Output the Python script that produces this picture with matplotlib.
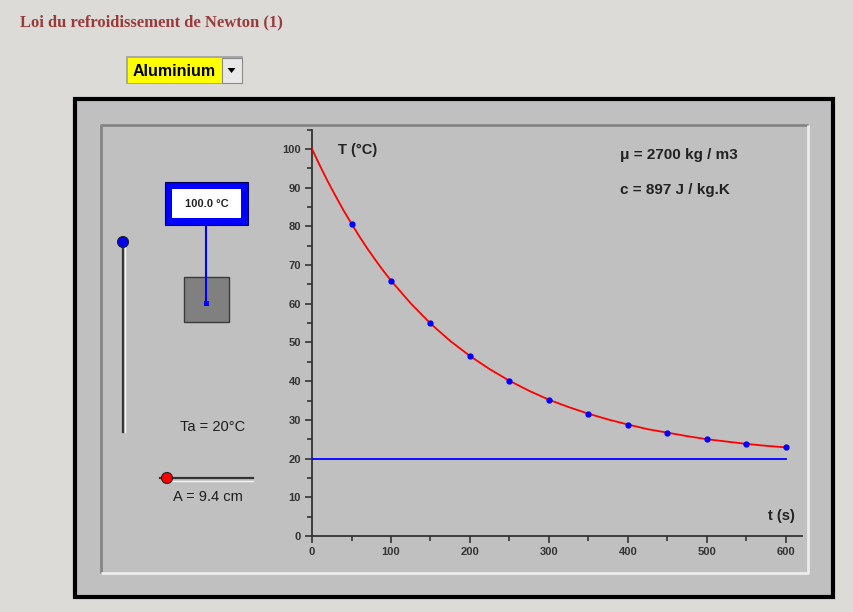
import matplotlib
matplotlib.use("Agg")
import matplotlib.pyplot as plt
from matplotlib.patches import Rectangle, Circle, Polygon
from matplotlib.ticker import MultipleLocator

# ---- data ----
point_t = [50, 100, 150, 200, 250, 300, 350, 400, 450, 500, 550, 600]
point_T = [80.7, 66.0, 55.0, 46.5, 40.1, 35.2, 31.6, 28.8, 26.7, 25.0, 23.8, 22.9]
curve_t = [0, 10, 20, 30, 40, 50, 60, 70, 80, 90, 100, 125, 150, 175, 200,
           225, 250, 275, 300, 325, 350, 375, 400, 425, 450, 475, 500,
           525, 550, 575, 600]
curve_T = [100, 95.7, 91.6, 87.8, 84.1, 80.7, 77.4, 74.3, 71.4, 68.6, 66.0,
           60.1, 54.9, 50.4, 46.5, 43.1, 40.1, 37.5, 35.2, 33.3, 31.6, 30.1,
           28.8, 27.6, 26.7, 25.8, 25.0, 24.4, 23.8, 23.3, 22.9]
ambient_t = [0, 600]
ambient_T = [20, 20]
x_ticks = [0, 100, 200, 300, 400, 500, 600]
y_ticks = [0, 10, 20, 30, 40, 50, 60, 70, 80, 90, 100]

title = "Loi du refroidissement de Newton (1)"
material = "Aluminium"
thermo_label = "100.0 °C"
ta_label = "Ta = 20°C"
a_label = "A = 9.4 cm"
rho_label = "μ = 2700 kg / m3"
c_label = "c = 897 J / kg.K"

W, H = 854, 612
fig = plt.figure(figsize=(W / 100, H / 100), dpi=100)
fig.patch.set_facecolor("#dcdbd7")

# decoration axes in pixel coordinates
deco = fig.add_axes([0, 0, 1, 1], zorder=0)
deco.set_xlim(0, W)
deco.set_ylim(H, 0)
deco.axis("off")

SANS = ["Liberation Sans", "DejaVu Sans"]

deco.text(20, 22, title, family="Liberation Serif", fontweight="bold",
          fontsize=12, color="#9a3b3b", va="center", ha="left")

# dropdown
deco.add_patch(Rectangle((126, 56), 117, 28, facecolor="#a8a8a8", edgecolor="none"))
deco.add_patch(Rectangle((128, 58), 94, 25, facecolor="#ffff00", edgecolor="none"))
deco.add_patch(Rectangle((222, 58), 20, 25, facecolor="#e8e8e8", edgecolor="#8a8a8a", lw=0.8))
deco.add_patch(Polygon([[227.5, 68], [235.5, 68], [231.5, 73]], closed=True,
                       facecolor="black", edgecolor="none"))
deco.text(133, 71, material, family=SANS, fontweight="bold", fontsize=11.5,
          color="black", va="center", ha="left")

# black frame
deco.add_patch(Rectangle((75, 99), 758, 498, facecolor="#c0c0c0", edgecolor="black", lw=3))
# inner bevelled panel
deco.plot([101, 101, 808], [573, 125, 125], color="#858585", lw=2, solid_capstyle="butt")
deco.plot([101, 808, 808], [573, 573, 125], color="#ececec", lw=2, solid_capstyle="butt")

# vertical slider
deco.plot([123, 123], [242, 432], color="#333333", lw=1.6)
deco.plot([125, 125], [246, 432], color="#f4f4f4", lw=1.0)
deco.add_patch(Circle((123, 242), 5.5, facecolor="#0000ee", edgecolor="#222222", lw=0.8, zorder=5))

# thermometer display
deco.add_patch(Rectangle((165, 182), 83, 43, facecolor="#0000ff", edgecolor="#000055", lw=0.8))
deco.add_patch(Rectangle((172, 189), 69, 29, facecolor="white", edgecolor="none"))
deco.text(206.5, 204, thermo_label, family=SANS, fontweight="bold", fontsize=8,
          color="#222222", va="center", ha="center")
# block
deco.add_patch(Rectangle((184, 277), 45, 45, facecolor="#808080", edgecolor="#3a3a3a", lw=1))
deco.plot([206.5, 206.5], [225, 304], color="#0000ff", lw=1.5)
deco.add_patch(Rectangle((204, 301), 5, 5, facecolor="#0000ff", edgecolor="none"))

deco.text(213, 427, ta_label, family=SANS, fontsize=10.5, color="#1e1e1e",
          va="center", ha="center")

# horizontal slider
deco.plot([160, 253], [478, 478], color="#333333", lw=1.6)
deco.plot([162, 253], [480.5, 480.5], color="#f4f4f4", lw=1.0)
deco.add_patch(Circle((167, 478), 5.5, facecolor="#ff0000", edgecolor="#222222", lw=0.8, zorder=5))
deco.text(208, 497, a_label, family=SANS, fontsize=10.5, color="#1e1e1e",
          va="center", ha="center")

# ---- data axes ----
x0, x1 = 312, 312 + 620 * 0.79
y0, y1 = 536, 536 - 105 * 3.87
ax = fig.add_axes([x0 / W, (H - y0) / H, (x1 - x0) / W, (y0 - y1) / H], zorder=2)
ax.patch.set_alpha(0)
ax.set_xlim(0, 620)
ax.set_ylim(0, 105)
for s in ["top", "right"]:
    ax.spines[s].set_visible(False)
for s in ["left", "bottom"]:
    ax.spines[s].set_color("#333333")
    ax.spines[s].set_linewidth(1.3)
ax.set_xticks(x_ticks)
ax.set_yticks(y_ticks)
ax.xaxis.set_minor_locator(MultipleLocator(50))
ax.yaxis.set_minor_locator(MultipleLocator(5))
ax.tick_params(which="major", length=5, width=1.2, color="#333333",
               labelsize=8, labelcolor="#333333", pad=3)
ax.tick_params(which="minor", length=3.5, width=1.2, color="#333333")
for lab in ax.get_xticklabels() + ax.get_yticklabels():
    lab.set_fontweight("bold")
    lab.set_family(SANS)

ax.plot(ambient_t, ambient_T, color="#0000ff", lw=1.3, zorder=3)
ax.plot(curve_t, curve_T, color="#ff0000", lw=1.3, zorder=4)
ax.plot(point_t, point_T, linestyle="none", marker="o", markersize=3.5,
        color="#0000ff", zorder=5)

deco2 = fig.add_axes([0, 0, 1, 1], zorder=3)
deco2.set_xlim(0, W)
deco2.set_ylim(H, 0)
deco2.axis("off")
deco2.text(338, 150, "T (°C)", family=SANS, fontweight="bold", fontsize=10.5,
           color="#222222", va="center", ha="left")
deco2.text(795, 516, "t (s)", family=SANS, fontweight="bold", fontsize=10.5,
           color="#222222", va="center", ha="right")
deco2.text(620, 155, rho_label, family=SANS, fontweight="bold", fontsize=11,
           color="#222222", va="center", ha="left")
deco2.text(620, 190, c_label, family=SANS, fontweight="bold", fontsize=11,
           color="#222222", va="center", ha="left")

fig.savefig("out.png", dpi=100, facecolor=fig.get_facecolor())
